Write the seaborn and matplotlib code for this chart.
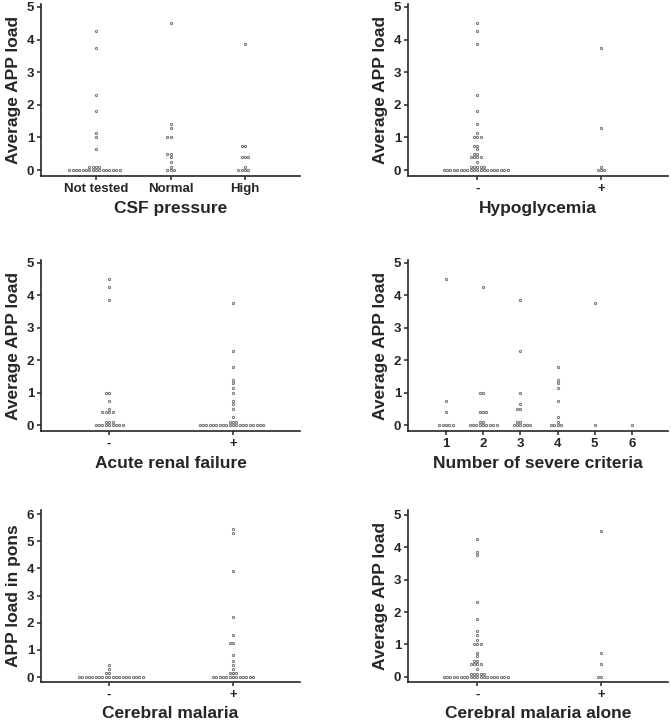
import seaborn as sns
import pandas as pd
import matplotlib.pyplot as plt

# ---- data ----
csf_labels = ["Not tested", "Normal", "High"]
csf_not_tested = [0, 0, 0, 0, 0, 0, 0, 0, 0, 0, 0, 0, 0, 0, 0, 0,
                  0.1, 0.1, 0.1, 0.1, 0.65, 1.0, 1.15, 1.8, 2.3, 3.75, 4.25]
csf_normal = [0, 0, 0, 0.1, 0.25, 0.4, 0.5, 0.5, 1.0, 1.0, 1.3, 1.4, 4.5]
csf_high = [0, 0, 0, 0, 0.1, 0.4, 0.4, 0.4, 0.75, 0.75, 3.85]

pm_labels = ["-", "+"]
hypo_neg = [0, 0, 0, 0, 0, 0, 0, 0, 0, 0, 0, 0, 0, 0, 0, 0, 0, 0, 0, 0,
            0.1, 0.1, 0.1, 0.1, 0.1, 0.25, 0.4, 0.4, 0.4, 0.4, 0.5, 0.5, 0.65,
            0.75, 0.75, 1.0, 1.0, 1.0, 1.15, 1.4, 1.8, 2.3, 3.85, 4.25, 4.5]
hypo_pos = [0, 0, 0, 0.1, 1.3, 3.75]

arf_neg = [0, 0, 0, 0, 0, 0, 0, 0, 0, 0.1, 0.1, 0.1, 0.4, 0.4, 0.4, 0.4,
           0.5, 0.75, 1.0, 1.0, 3.85, 4.25, 4.5]
arf_pos = [0, 0, 0, 0, 0, 0, 0, 0, 0, 0, 0, 0, 0, 0, 0, 0, 0, 0, 0, 0,
           0.1, 0.1, 0.1, 0.25, 0.5, 0.65, 0.75, 1.0, 1.15, 1.3, 1.4, 1.8, 2.3, 3.75]

crit_labels = ["1", "2", "3", "4", "5", "6"]
crit_1 = [0, 0, 0, 0, 0, 0.4, 0.75, 4.5]
crit_2 = [0, 0, 0, 0, 0, 0, 0, 0, 0, 0.1, 0.1, 0.4, 0.4, 0.4, 1.0, 1.0, 4.25]
crit_3 = [0, 0, 0, 0, 0, 0, 0.1, 0.1, 0.5, 0.5, 0.65, 1.0, 2.3, 3.85]
crit_4 = [0, 0, 0, 0, 0.1, 0.25, 0.75, 1.15, 1.3, 1.4, 1.8]
crit_5 = [0, 3.75]
crit_6 = [0]

cm_neg = [0, 0, 0, 0, 0, 0, 0, 0, 0, 0, 0, 0, 0, 0, 0, 0, 0, 0, 0, 0,
          0.15, 0.15, 0.3, 0.45]
cm_pos = [0, 0, 0, 0, 0, 0, 0, 0, 0, 0, 0, 0, 0,
          0.15, 0.15, 0.15, 0.3, 0.45, 0.6, 0.8, 1.25, 1.25, 1.55, 2.2, 3.9, 5.3, 5.45]

cma_neg = [0, 0, 0, 0, 0, 0, 0, 0, 0, 0, 0, 0, 0, 0, 0, 0, 0, 0, 0, 0,
           0.1, 0.1, 0.1, 0.1, 0.1, 0.25, 0.4, 0.4, 0.4, 0.4, 0.5, 0.5, 0.65, 0.75,
           1.0, 1.0, 1.0, 1.15, 1.3, 1.4, 1.8, 2.3, 3.75, 3.85, 4.25]
cma_pos = [0, 0, 0.4, 0.75, 4.5]

sns.set_style("ticks")
plt.rcParams['font.family'] = ['Liberation Sans', 'DejaVu Sans']
plt.rcParams['font.weight'] = 'bold'

fig = plt.figure(figsize=(6.71, 7.2), dpi=100)
W, H = 671, 720


def panel(rect_px, groups, labels, xlabel, ylabel, ylim, yticks, xlim):
    l, t, r, b = rect_px
    ax = fig.add_axes([l / W, 1 - b / H, (r - l) / W, (b - t) / H])
    names, vals = [], []
    for lab, g in zip(labels, groups):
        names += [lab] * len(g)
        vals += g
    df = pd.DataFrame({"group": names, "value": vals})
    sns.swarmplot(data=df, x="group", y="value", order=labels, ax=ax,
                  size=1.6, color="white", edgecolor="0.45", linewidth=0.7)
    ax.set_ylim(*ylim)
    ax.set_xlim(*xlim)
    ax.set_yticks(yticks)
    ax.set_xlabel(xlabel, fontsize=12.5, fontweight="bold", labelpad=4)
    ax.set_ylabel(ylabel, fontsize=12.5, fontweight="bold", labelpad=4)
    ax.tick_params(axis="both", length=3, width=1.1, labelsize=9.5, pad=2)
    for lbl in ax.get_xticklabels() + ax.get_yticklabels():
        lbl.set_fontweight("bold")
    sns.despine(ax=ax)
    for s in ("left", "bottom"):
        ax.spines[s].set_linewidth(1.2)
    return ax


panel((41, 4, 300, 176), [csf_not_tested, csf_normal, csf_high], csf_labels,
      "CSF pressure", "Average APP load", (-0.18, 5.09), range(6), (-0.74, 2.74))
panel((408, 4, 668, 176), [hypo_neg, hypo_pos], pm_labels,
      "Hypoglycemia", "Average APP load", (-0.18, 5.09), range(6), (-0.56, 1.54))
panel((41, 260, 300, 431), [arf_neg, arf_pos], pm_labels,
      "Acute renal failure", "Average APP load", (-0.18, 5.09), range(6), (-0.55, 1.54))
panel((408, 260, 668, 431), [crit_1, crit_2, crit_3, crit_4, crit_5, crit_6], crit_labels,
      "Number of severe criteria", "Average APP load", (-0.18, 5.09), range(6), (-1.02, 5.97))
panel((41, 510, 300, 682), [cm_neg, cm_pos], pm_labels,
      "Cerebral malaria", "APP load in pons", (-0.18, 6.15), range(7), (-0.55, 1.54))
panel((408, 510, 668, 682), [cma_neg, cma_pos], pm_labels,
      "Cerebral malaria alone", "Average APP load", (-0.16, 5.15), range(6), (-0.56, 1.54))

fig.savefig("out.png", dpi=100)
